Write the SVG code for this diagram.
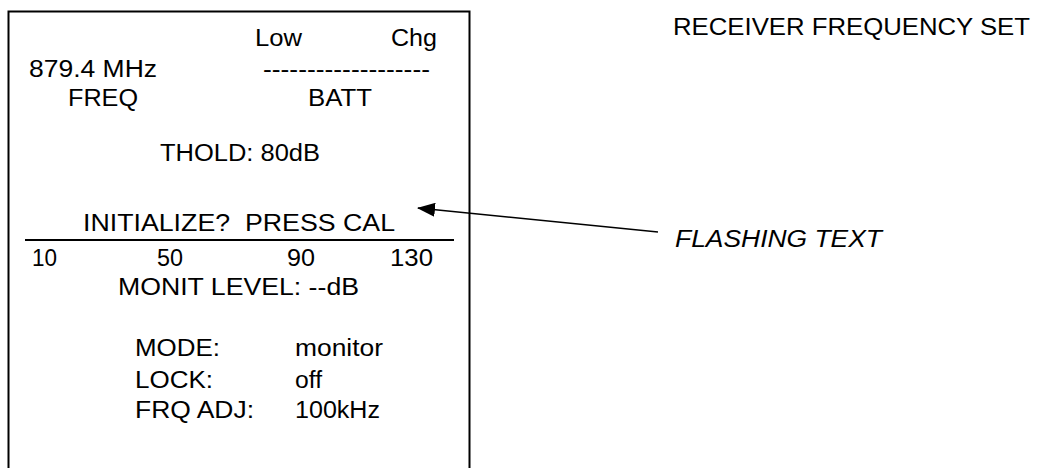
<svg xmlns="http://www.w3.org/2000/svg" width="1048" height="468" viewBox="0 0 1048 468">
<style>
text{font-family:"Liberation Sans",Arial,sans-serif;font-size:23px;fill:#000}
.it{font-style:italic}
</style>
<defs>
<marker id="ah" markerWidth="18" markerHeight="14" refX="17" refY="7" orient="auto" markerUnits="userSpaceOnUse"><path d="M0,0 L18,7 L0,14 Z" fill="#000"/></marker>
</defs>
<rect x="0" y="0" width="1048" height="468" fill="#fff"/>
<g id="display">
<path d="M8.5,480 V11.5 H469.5 V480" fill="none" stroke="#000" stroke-width="2"/>
<text x="255" y="46" textLength="47" lengthAdjust="spacingAndGlyphs">Low</text>
<text x="391" y="46" textLength="46" lengthAdjust="spacingAndGlyphs">Chg</text>
<text x="29" y="77" textLength="128" lengthAdjust="spacingAndGlyphs">879.4 MHz</text>
<text x="263" y="77" textLength="167" lengthAdjust="spacingAndGlyphs">-------------------</text>
<text x="68" y="106" textLength="70" lengthAdjust="spacingAndGlyphs">FREQ</text>
<text x="308" y="106" textLength="64" lengthAdjust="spacingAndGlyphs">BATT</text>
<text x="160" y="161" textLength="160" lengthAdjust="spacingAndGlyphs">THOLD: 80dB</text>
<text x="83" y="231" xml:space="preserve" textLength="312" lengthAdjust="spacingAndGlyphs">INITIALIZE?  PRESS CAL</text>
<line x1="25" y1="240" x2="454" y2="240" stroke="#000" stroke-width="2"/>
<text x="32" y="266" textLength="25" lengthAdjust="spacingAndGlyphs">10</text>
<text x="157" y="266" textLength="26" lengthAdjust="spacingAndGlyphs">50</text>
<text x="287" y="266" textLength="28" lengthAdjust="spacingAndGlyphs">90</text>
<text x="390" y="266" textLength="43" lengthAdjust="spacingAndGlyphs">130</text>
<text x="118" y="295" textLength="241" lengthAdjust="spacingAndGlyphs">MONIT LEVEL: --dB</text>
<text x="135" y="356" textLength="85" lengthAdjust="spacingAndGlyphs">MODE:</text>
<text x="295" y="356" textLength="88" lengthAdjust="spacingAndGlyphs">monitor</text>
<text x="135" y="388" textLength="78" lengthAdjust="spacingAndGlyphs">LOCK:</text>
<text x="295" y="388" textLength="27" lengthAdjust="spacingAndGlyphs">off</text>
<text x="135" y="418" textLength="119" lengthAdjust="spacingAndGlyphs">FRQ ADJ:</text>
<text x="295" y="418" textLength="85" lengthAdjust="spacingAndGlyphs">100kHz</text>
</g>
<g id="title"><text x="673" y="35" textLength="357" lengthAdjust="spacingAndGlyphs">RECEIVER FREQUENCY SET</text></g>
<g id="label"><text class="it" x="675" y="247" textLength="207" lengthAdjust="spacingAndGlyphs">FLASHING TEXT</text></g>
<g id="connectors">
<line x1="658" y1="232" x2="418" y2="208" stroke="#000" stroke-width="1.6" marker-end="url(#ah)"/>
</g>
</svg>
